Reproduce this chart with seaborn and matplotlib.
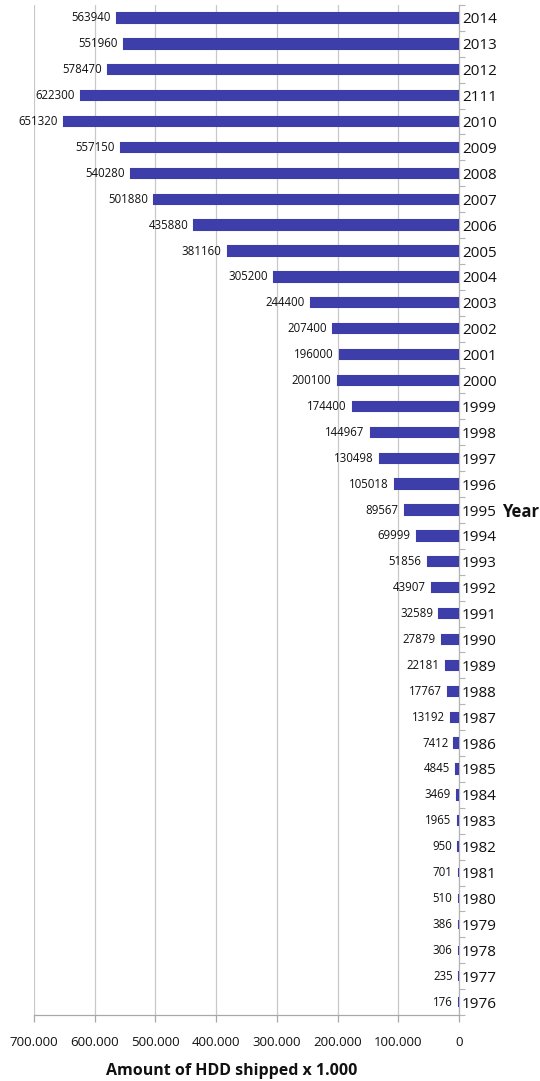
import matplotlib
matplotlib.use("Agg")
import matplotlib.pyplot as plt
import seaborn as sns
import numpy as np
import pandas as pd
from matplotlib.ticker import FixedLocator, FuncFormatter

years = ["2014", "2013", "2012", "2111", "2010", "2009", "2008", "2007", "2006",
         "2005", "2004", "2003", "2002", "2001", "2000", "1999", "1998", "1997",
         "1996", "1995", "1994", "1993", "1992", "1991", "1990", "1989", "1988",
         "1987", "1986", "1985", "1984", "1983", "1982", "1981", "1980", "1979",
         "1978", "1977", "1976"]
shipped = [563940, 551960, 578470, 622300, 651320, 557150, 540280, 501880, 435880,
           381160, 305200, 244400, 207400, 196000, 200100, 174400, 144967, 130498,
           105018, 89567, 69999, 51856, 43907, 32589, 27879, 22181, 17767,
           13192, 7412, 4845, 3469, 1965, 950, 701, 510, 386,
           306, 235, 176]
x_ticks = [700000, 600000, 500000, 400000, 300000, 200000, 100000, 0]

sns.set_theme(style="white")
plt.rcParams["font.family"] = ["Open Sans", "DejaVu Sans"]

df = pd.DataFrame({"year": years, "shipped": shipped})

fig = plt.figure(figsize=(5.40, 10.81), dpi=100)
L, R, T, B = 34, 459, 5, 1015
ax = fig.add_axes([L / 540, 1 - B / 1081, (R - L) / 540, (B - T) / 1081])

bar_color = "#3E3EAA"
sns.barplot(data=df, x="shipped", y="year", order=years, orient="h",
            color=bar_color, saturation=1, width=0.36, ax=ax,
            edgecolor=bar_color, linewidth=1.5, zorder=3)

ax.set_xlim(700000, 0)
ax.set_ylim(len(years) - 0.5, -0.5)

# vertical grid
ax.xaxis.set_major_locator(FixedLocator(x_ticks))
ax.xaxis.set_major_formatter(FuncFormatter(
    lambda v, p: "0" if v == 0 else f"{int(v):,}".replace(",", ".")))
ax.grid(axis="x", color="#C8C8C8", linewidth=0.9)
ax.set_axisbelow(True)

# spines
for s in ["top", "left"]:
    ax.spines[s].set_visible(False)
ax.spines["bottom"].set_color("#A8A8A8")
ax.spines["right"].set_color("#B4B4B4")
ax.spines["bottom"].set_linewidth(0.9)
ax.spines["right"].set_linewidth(0.9)

ax.tick_params(axis="x", bottom=True, length=5, width=0.9, color="#A8A8A8",
               labelsize=9.5, labelcolor="#111111", pad=10)

# year labels on the right, with small ticks between categories
ax.yaxis.tick_right()
ax.tick_params(axis="y", which="major", length=0, labelsize=11,
               labelcolor="#111111", pad=2)
ax.yaxis.set_minor_locator(FixedLocator(np.arange(-0.5, len(years), 1.0)))
ax.tick_params(axis="y", which="minor", right=True, length=4, width=0.8,
               color="#B4B4B4")
ax.set_ylabel("")

ax.set_xlabel("Amount of HDD shipped x 1.000", fontsize=11.5, fontweight="bold",
              color="#111111")
ax.xaxis.set_label_coords((232 - L) / (R - L), (B - 1063) / (B - T))

# value labels at bar ends
for i, v in enumerate(shipped):
    ax.annotate(str(v), xy=(v, i), xytext=(-4.5, 0), textcoords="offset points",
                ha="right", va="center", fontsize=8.3, color="#111111")

fig.text(502 / 540, 1 - 512 / 1081, "Year", fontsize=12, fontweight="bold",
         ha="left", va="center", color="#111111")

fig.savefig("out.png", dpi=100)
